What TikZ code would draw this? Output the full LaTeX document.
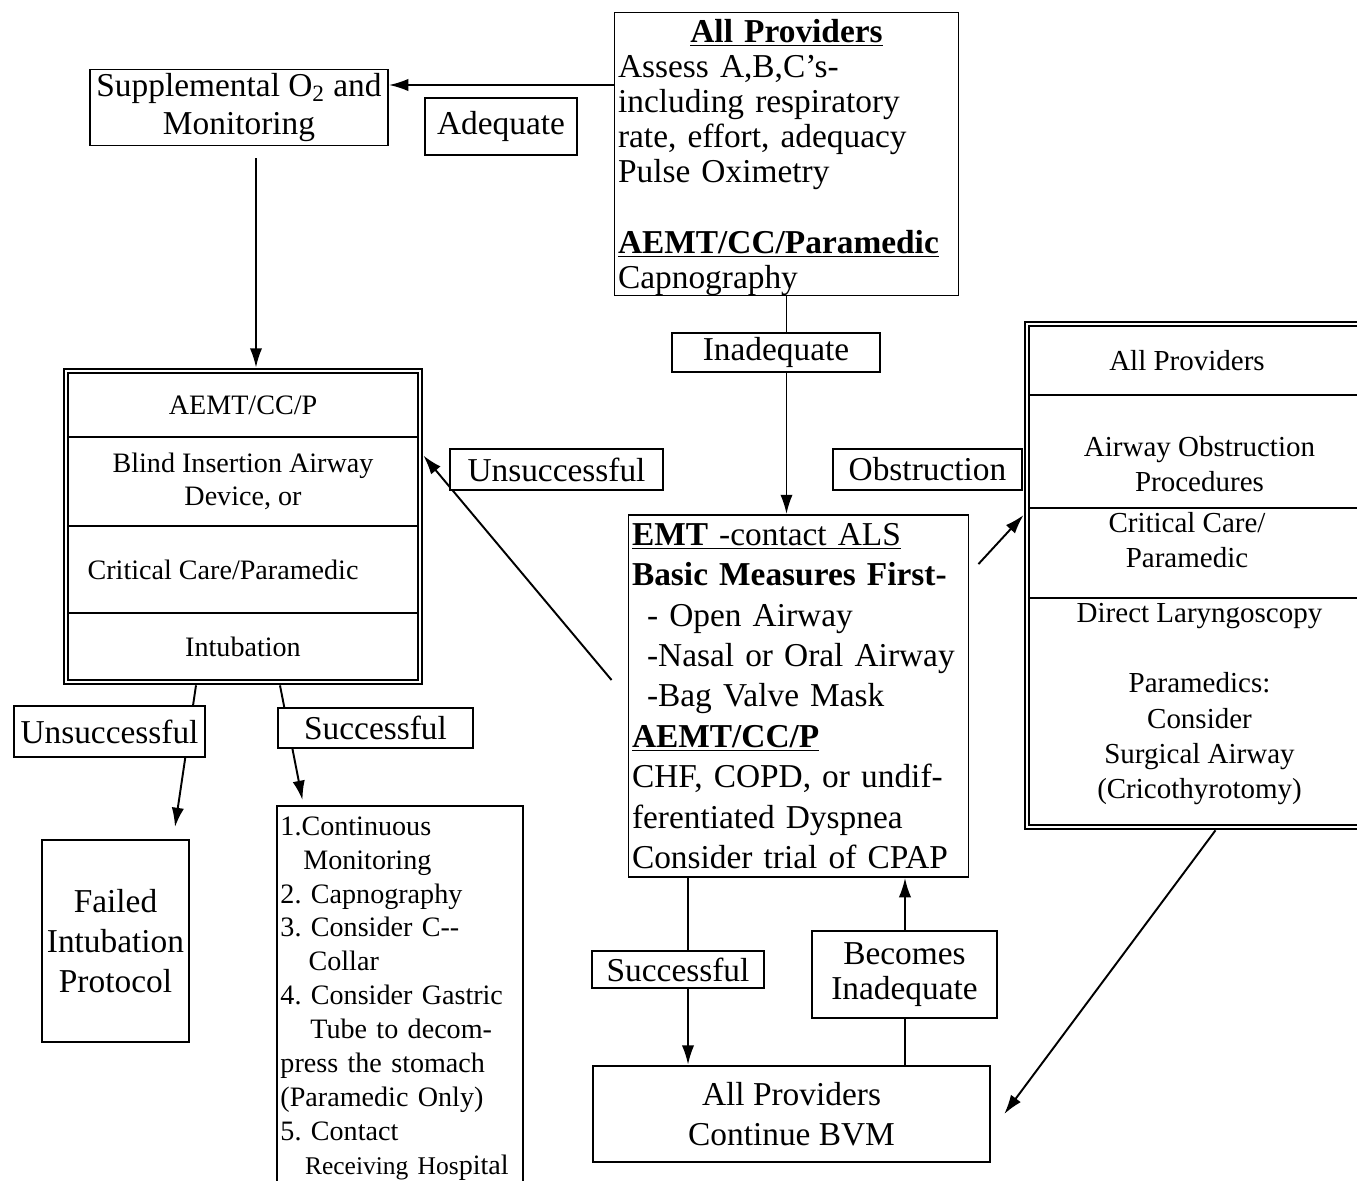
\documentclass[tikz,border=0pt]{standalone}
\usepackage{fontspec}
\setmainfont{Liberation Serif}
\usetikzlibrary{positioning,fit,arrows.meta}
\frenchspacing

\begin{document}
\begin{tikzpicture}[x=0.02cm, y=-0.02cm, line width=1.1pt,
      box/.style = {draw, rectangle, inner sep=2pt, font=\fontsize{19}{23}\selectfont},
      lbl/.style = {draw, fill=white, line width=1.4pt, inner sep=0pt, font=\fontsize{19}{20}\selectfont},
      row/.style = {draw, inner sep=0pt, outer sep=0pt, align=center, font=\fontsize{16}{19}\selectfont},
      stack/.style = {draw, line width=1.6pt, inner sep=0.08cm},
      arrow/.style = {-{Latex[length=11pt,width=7pt]}}]
    \useasboundingbox (0,0) rectangle (1357,1181);

    % boxes
    \node[box, inner ysep=0pt, minimum width=6.86cm, minimum height=5.64cm, text width=6.74cm, align=left,
          font=\fontsize{19}{20}\selectfont] (allp) at (786.5,154) {%
      \makebox[6.74cm]{\rule{0pt}{17pt}\underline{\textbf{All Providers}}}\\
      Assess A,B,C’s-\\
      including respiratory\\
      rate, effort, adequacy\\
      Pulse Oximetry\\[20pt]
      \underline{\textbf{AEMT/CC/Paramedic}}\\
      Capnography};
    \node[box, minimum width=5.96cm, minimum height=1.42cm, align=center,
          font=\fontsize{19}{22}\selectfont] (supp) at (239,107.5)
      {Supplemental O\textsubscript{2} and\\Monitoring};

    % left stack
    \node[row, minimum width=7cm, minimum height=1.28cm] (lr1) at (243,405) {AEMT/CC/P};
    \node[row, minimum width=7cm, minimum height=1.78cm, below=0pt of lr1] (lr2)
      {Blind Insertion Airway\\Device, or};
    \node[row, minimum width=7cm, minimum height=1.74cm, below=0pt of lr2] (lr3)
      {Critical Care/Paramedic\hspace*{0.8cm}};
    \node[row, minimum width=7cm, minimum height=1.34cm, below=0pt of lr3] (lr4) {Intubation};
    \node[stack, fit=(lr1)(lr4)] (lstack) {};

    % right stack
    \node[row, minimum width=6.82cm, minimum height=1.38cm,
          font=\fontsize{16.5}{20}\selectfont] (rr1) at (1199.5,360.5) {All Providers\hspace*{0.5cm}};
    \node[row, minimum width=6.82cm, minimum height=2.26cm, below=0pt of rr1,
          font=\fontsize{16.5}{20}\selectfont] (rr2) {\rule{0pt}{26pt}Airway Obstruction\\Procedures};
    \node[row, minimum width=6.82cm, minimum height=1.8cm, below=0pt of rr2,
          font=\fontsize{16.5}{20}\selectfont] (rr3)
      {Critical Care/\hspace*{0.5cm}\\Paramedic\hspace*{0.5cm}\rule[-15pt]{0pt}{15pt}};
    \node[row, minimum width=6.82cm, minimum height=4.54cm, below=0pt of rr3,
          font=\fontsize{16.5}{20}\selectfont] (rr4)
      {Direct Laryngoscopy\\[20pt]Paramedics:\\Consider\\Surgical Airway\\(Cricothyrotomy)\rule[-12pt]{0pt}{12pt}};
    \node[stack, fit=(rr1)(rr4)] (rstack) {};

    \node[box, minimum width=6.78cm, minimum height=7.24cm, text width=6.66cm, align=left]
      (emt) at (798.5,696) {%
      \underline{\textbf{EMT} -contact ALS}\\
      \textbf{Basic Measures First-}\\
      \hspace*{0.3cm}- Open Airway\\
      \hspace*{0.3cm}-Nasal or Oral Airway\\
      \hspace*{0.3cm}-Bag Valve Mask\\
      \underline{\textbf{AEMT/CC/P}}\\
      CHF, COPD, or undif-\\
      ferentiated Dyspnea\\
      Consider trial of CPAP};
    \node[box, minimum width=2.94cm, minimum height=4.04cm, align=center] (fail) at (115.5,941)
      {Failed\\Intubation\\Protocol};
    \node[box, anchor=north west, minimum width=4.86cm, minimum height=7.7cm, text width=4.78cm,
          align=left, font=\fontsize{16}{19.3}\selectfont] (list) at (276,805) {%
      1.Continuous\\
      \hspace*{13pt}Monitoring\\
      2. Capnography\\
      3. Consider C-{}-\\
      \hspace*{16pt}Collar\\
      4. Consider Gastric\\
      \hspace*{17pt}Tube to decom-\\
      press the stomach\\
      (Paramedic Only)\\
      5. Contact\\
      \hspace*{14pt}{\fontsize{14.5}{19.3}\selectfont Receiving Hos}pital};
    \node[box, line width=1.5pt, minimum width=7.94cm, minimum height=1.92cm, align=center]
      (bvm) at (791.5,1114) {All Providers\\Continue BVM};

    % connectors
    \draw[arrow] (allp.west |- 0,85) -- (supp.east |- 0,85);
    \draw[arrow, shorten <=0.24cm] ([xshift=0.34cm]supp.south) -- ([xshift=0.34cm]supp.south |- lstack.north);
    \draw[arrow] (allp.south) -- (allp.south |- emt.north);
    \draw[arrow] ([shift={(-0.32cm,0.32cm)}]emt.west) -- ([yshift=1.42cm]lstack.east);
    \draw[arrow] ([shift={(0.18cm,-1cm)}]emt.north east) -- ([yshift=1.21cm]rstack.west);
    \draw[arrow] ([xshift=-0.94cm]lstack.south) -- ([shift={(1.19cm,0.24cm)}]fail.north);
    \draw[arrow] ([xshift=0.74cm]lstack.south) -- ([shift={(-1.95cm,0.1cm)}]list.north);
    \draw[arrow] ([xshift=-2.21cm]emt.south) -- ([xshift=-2.21cm]emt.south |- bvm.north);
    \draw[arrow] ([xshift=2.13cm]emt.south |- bvm.north) -- ([xshift=2.13cm]emt.south);
    \draw[arrow] ([xshift=0.32cm]rstack.south) -- ([xshift=0.26cm]bvm.east);

    % labels
    \node[lbl, minimum width=3.04cm, minimum height=1.14cm] (adeq) at (501,126.5) {Adequate};
    \node[lbl, minimum width=4.16cm, minimum height=0.78cm] (inad) at (776,352.5) {Inadequate};
    \node[lbl, minimum width=4.26cm, minimum height=0.82cm] (unsm) at (556.5,469.5) {Unsuccessful};
    \node[lbl, minimum width=3.78cm, minimum height=0.82cm] (obst) at (927.5,469.5) {Obstruction};
    \node[lbl, minimum width=3.82cm, minimum height=1.02cm] (unsl) at (109.5,731.5) {Unsuccessful};
    \node[lbl, minimum width=3.9cm, minimum height=0.8cm] (sucl) at (375.5,728) {Successful};
    \node[lbl, minimum width=3.44cm, minimum height=0.74cm] (sucb) at (678,969.5) {Successful};
    \node[lbl, minimum width=3.7cm, minimum height=1.74cm, align=center] (becm) at (904.5,974.5)
      {Becomes\\Inadequate};
  \end{tikzpicture}
\end{document}
